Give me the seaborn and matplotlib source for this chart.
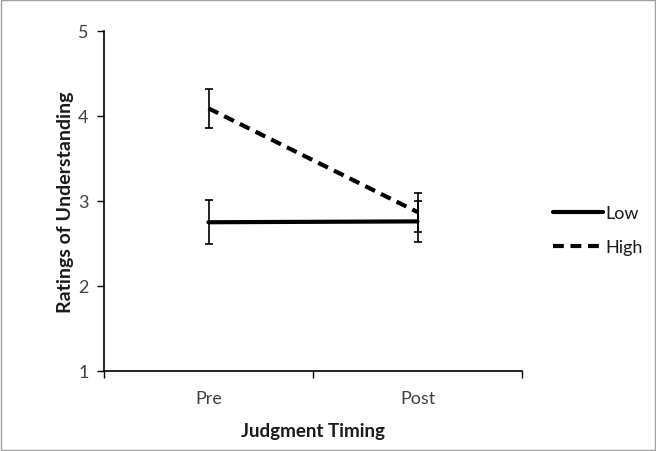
import matplotlib
matplotlib.use("Agg")
import matplotlib.pyplot as plt
import seaborn as sns
import pandas as pd
from matplotlib.patches import Rectangle
from matplotlib.ticker import FixedLocator

timing = ["Pre", "Post"]
low_means = [2.75, 2.76]
low_err = [0.26, 0.24]
high_means = [4.09, 2.87]
high_err = [0.23, 0.23]
conditions = ["Low", "High"]

rows = []
for cond, means, errs in [("Low", low_means, low_err), ("High", high_means, high_err)]:
    for i, (t, m, e) in enumerate(zip(timing, means, errs)):
        rows.append({"Timing": t, "pos": i, "Rating": m, "err": e, "Condition": cond})
df = pd.DataFrame(rows)

sns.set_theme(style="white")
plt.rcParams["font.family"] = ["Lato", "DejaVu Sans"]

fig = plt.figure(figsize=(6.56, 4.52), dpi=100)
ax = fig.add_axes([104/656, 1-372/452, (522-104)/656, (372-32)/452])

sns.lineplot(data=df, x="pos", y="Rating", style="Condition", style_order=conditions,
             dashes={"Low": "", "High": (2.6, 1.6)}, color="black", linewidth=3,
             ax=ax, legend=True)
for cond in conditions:
    sub = df[df["Condition"] == cond]
    ax.errorbar(sub["pos"], sub["Rating"], yerr=sub["err"], fmt="none",
                ecolor="black", elinewidth=1.2, capsize=3, capthick=1.2)

ax.set_xlim(-0.5, 1.5)
ax.set_ylim(1, 5)
ax.set_yticks([1, 2, 3, 4, 5])
ax.set_xticks([0, 1])
ax.set_xticklabels(timing)
ax.xaxis.set_minor_locator(FixedLocator([-0.5, 0.5, 1.5]))
ax.tick_params(axis="x", which="major", length=0, pad=14, labelsize=13, labelcolor="#404040")
ax.tick_params(axis="x", which="minor", length=5, width=1, color="black", direction="out", bottom=True)
ax.tick_params(axis="y", length=5, width=1, color="black", direction="out", left=True,
               labelsize=13, labelcolor="#404040", pad=6)
for s in ["top", "right"]:
    ax.spines[s].set_visible(False)
for s in ["left", "bottom"]:
    ax.spines[s].set_color("black")
    ax.spines[s].set_linewidth(1.2)

ax.set_xlabel("Judgment Timing", fontsize=13.5, fontweight="bold", color="#1a1a1a")
ax.set_ylabel("Ratings of Understanding", fontsize=14, fontweight="bold", color="#1a1a1a")
ax.xaxis.set_label_coords(0.5, -(432-372)/340)
ax.yaxis.set_label_coords(-(104-65)/418, 0.5)
ax.xaxis.label.set_va("center")
ax.yaxis.label.set_va("center")

handles, labels = ax.get_legend_handles_labels()
leg = ax.legend(handles, labels, loc="center left", bbox_to_anchor=(537/656, 1-231/452),
                bbox_transform=fig.transFigure, frameon=False, fontsize=13,
                handlelength=2.75, handletextpad=0.15, labelspacing=1.0)
for t in leg.get_texts():
    t.set_color("#1a1a1a")
for l in leg.get_lines():
    l.set_linewidth(3)

fig.patches.append(Rectangle((0.002, 0.002), 0.996, 0.996, transform=fig.transFigure,
                             fill=False, edgecolor="#a0a0a0", linewidth=1))

fig.savefig("out.png", dpi=100)
